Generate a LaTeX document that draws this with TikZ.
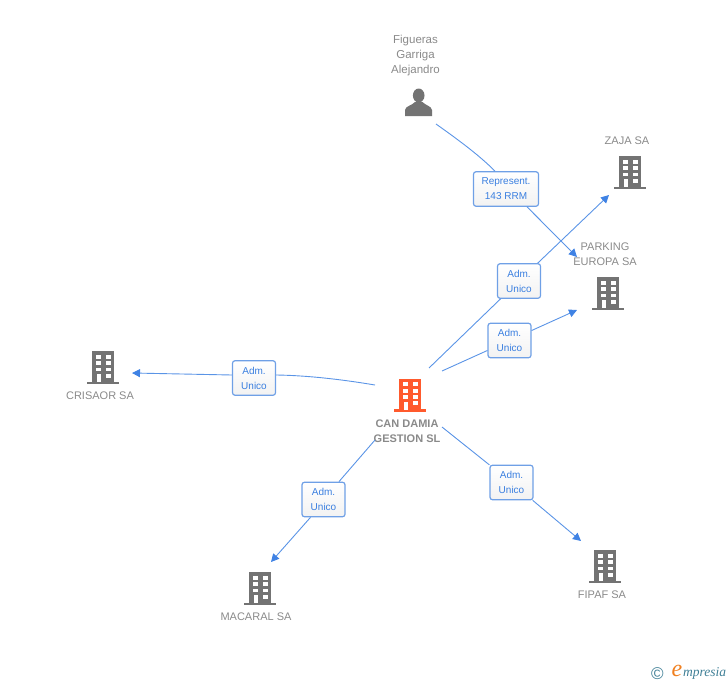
\documentclass[tikz,border=0pt]{standalone}
\usepackage{fontspec}
\setmainfont{Liberation Sans}
\newfontfamily\logofont{Liberation Serif}
\definecolor{icongrey}{HTML}{737373}
\definecolor{iconorange}{HTML}{FF5A2D}
\definecolor{textgrey}{HTML}{8A8A8A}
\definecolor{linkblue}{HTML}{5A94E6}
\definecolor{tipblue}{HTML}{3F82E4}
\definecolor{boxblue}{HTML}{6FA0E6}
\definecolor{labelblue}{HTML}{3A7FE0}
\definecolor{logoteal}{HTML}{3F7F96}
\definecolor{logoorange}{HTML}{F08020}
\usetikzlibrary{arrows.meta,shadings}
\tikzset{
  x=1pt,y=-1pt,
  conn/.style={draw=linkblue,line width=0.9pt},
  connarrow/.style={conn,-{Triangle[length=8pt,width=8pt,color=tipblue]}},
  linkbox/.style={draw=boxblue,line width=1.2pt,rounded corners=2.5pt,top color=white,bottom color=white!95!black,
    text=labelblue,font=\fontsize{10}{15}\selectfont,align=center,inner sep=0pt,minimum width=43pt,minimum height=34.5pt},
  lab/.style={text=textgrey,font=\fontsize{11}{15}\selectfont,align=center,inner sep=0pt},
  personlab/.style={text=textgrey,font=\fontsize{11.5}{15}\selectfont,align=center,inner sep=0pt},
  boldlab/.style={text=textgrey,font=\fontsize{11}{15.5}\selectfont\bfseries,align=center,inner sep=0pt},
  pics/tower/.style={code={
    \fill[#1] (-11.3,-16) rectangle (11.3,15);
    \fill[#1] (-16,14.5) rectangle (16,17);
    \fill[white] (-7,-12.5) rectangle (-2,-8.5);
    \fill[white] (2.5,-12.5) rectangle (7.5,-8.5);
    \fill[white] (-7,-6) rectangle (-2,-2);
    \fill[white] (2.5,-6) rectangle (7.5,-2);
    \fill[white] (-7,0.5) rectangle (-2,4);
    \fill[white] (2.5,0.5) rectangle (7.5,4);
    \fill[white] (-6,7) rectangle (-2,15);
    \fill[white] (2.5,6.5) rectangle (7.5,10.5);
  }}
}
\begin{document}
\begin{tikzpicture}
\useasboundingbox (0,0) rectangle (728,685);
% buildings
\pic at (410,394.5) {tower=iconorange};
\pic at (630,172) {tower=icongrey};
\pic at (608,293) {tower=icongrey};
\pic at (103,367) {tower=icongrey};
\pic at (260,588) {tower=icongrey};
\pic at (605,566) {tower=icongrey};
% person
\fill[icongrey] (418.7,95.5) ellipse (5.8 and 7);
\fill[icongrey] (405,116) -- (405,110) .. controls (405.5,106) and (412,105.5) .. (415,102) -- (422.5,102)
  .. controls (425.5,105.5) and (431.5,106) .. (432,110) -- (432,116) -- cycle;
% texts
\node[personlab] (nperson) at (415.5,55.5) {Figueras\\Garriga\\Alejandro};
\node[lab] (nzaja) at (627,141) {ZAJA SA};
\node[lab] (nparking) at (605,254.5) {PARKING\\EUROPA SA};
\node[lab] (ncrisaor) at (100,396) {CRISAOR SA};
\node[lab] (nmacaral) at (256,617) {MACARAL SA};
\node[lab] (nfipaf) at (602,595) {FIPAF SA};
\node[boldlab] (ncan) at (407,431) {CAN DAMIA\\GESTION SL};
% link labels
\node[linkbox,minimum width=65pt] (lrep) at (506,189) {Represent.\\143 RRM};
\node[linkbox] (lzaja) at (519,281) {Adm.\hspace{3pt}\\Unico};
\node[linkbox] (lpark) at (509.5,340.5) {Adm.\hspace{3pt}\\Unico};
\node[linkbox] (lcris) at (254,378) {Adm.\\Unico};
\node[linkbox] (lmac) at (323.5,499.5) {Adm.\hspace{3pt}\\Unico};
\node[linkbox] (lfip) at (511.5,482.5) {Adm.\hspace{3pt}\\Unico};
% free ends
\coordinate (pstart) at (436,124);
\coordinate (pend) at (577,257);
\coordinate (zstart) at (429,368);
\coordinate (zend) at (609,195);
\coordinate (kstart) at (442,371);
\coordinate (kend) at (577,310);
\coordinate (cstart) at (375,385);
\coordinate (cend) at (132,373);
\coordinate (mstart) at (375,440);
\coordinate (mend) at (271,562);
\coordinate (fstart) at (442,427);
\coordinate (fend) at (581,541);
% connectors
\draw[conn] (pstart) .. controls (460,141) and (480,156) .. ([xshift=-11pt]lrep.north);
\draw[connarrow] ([xshift=21pt]lrep.south) -- (pend);
\draw[conn] (zstart) -- (lzaja);
\draw[connarrow] (lzaja) -- (zend);
\draw[conn] (kstart) -- (lpark);
\draw[connarrow] (lpark) -- (kend);
\draw[conn] (cstart) .. controls (345,380) and (310,375.5) .. ([yshift=3pt]lcris.east);
\draw[connarrow] ([yshift=3pt]lcris.west) -- (cend);
\draw[conn] (mstart) -- (lmac);
\draw[connarrow] ([xshift=-13pt]lmac.south) -- (mend);
\draw[conn] (fstart) -- (lfip);
\draw[connarrow] (lfip) -- (fend);
% logo
\node[inner sep=0pt,text=logoteal,font=\fontsize{17}{17}\selectfont] (lcopy) at (657.5,674) {©};
\node[inner sep=0pt,text=logoorange,font=\logofont\itshape\fontsize{24}{24}\selectfont] (le) at (677,671) {e};
\node[inner sep=0pt,text=logoteal,anchor=west,font=\logofont\itshape\fontsize{13.5}{13.5}\selectfont] (lm) at (683,673.5) {mpresia};
\end{tikzpicture}
\end{document}
